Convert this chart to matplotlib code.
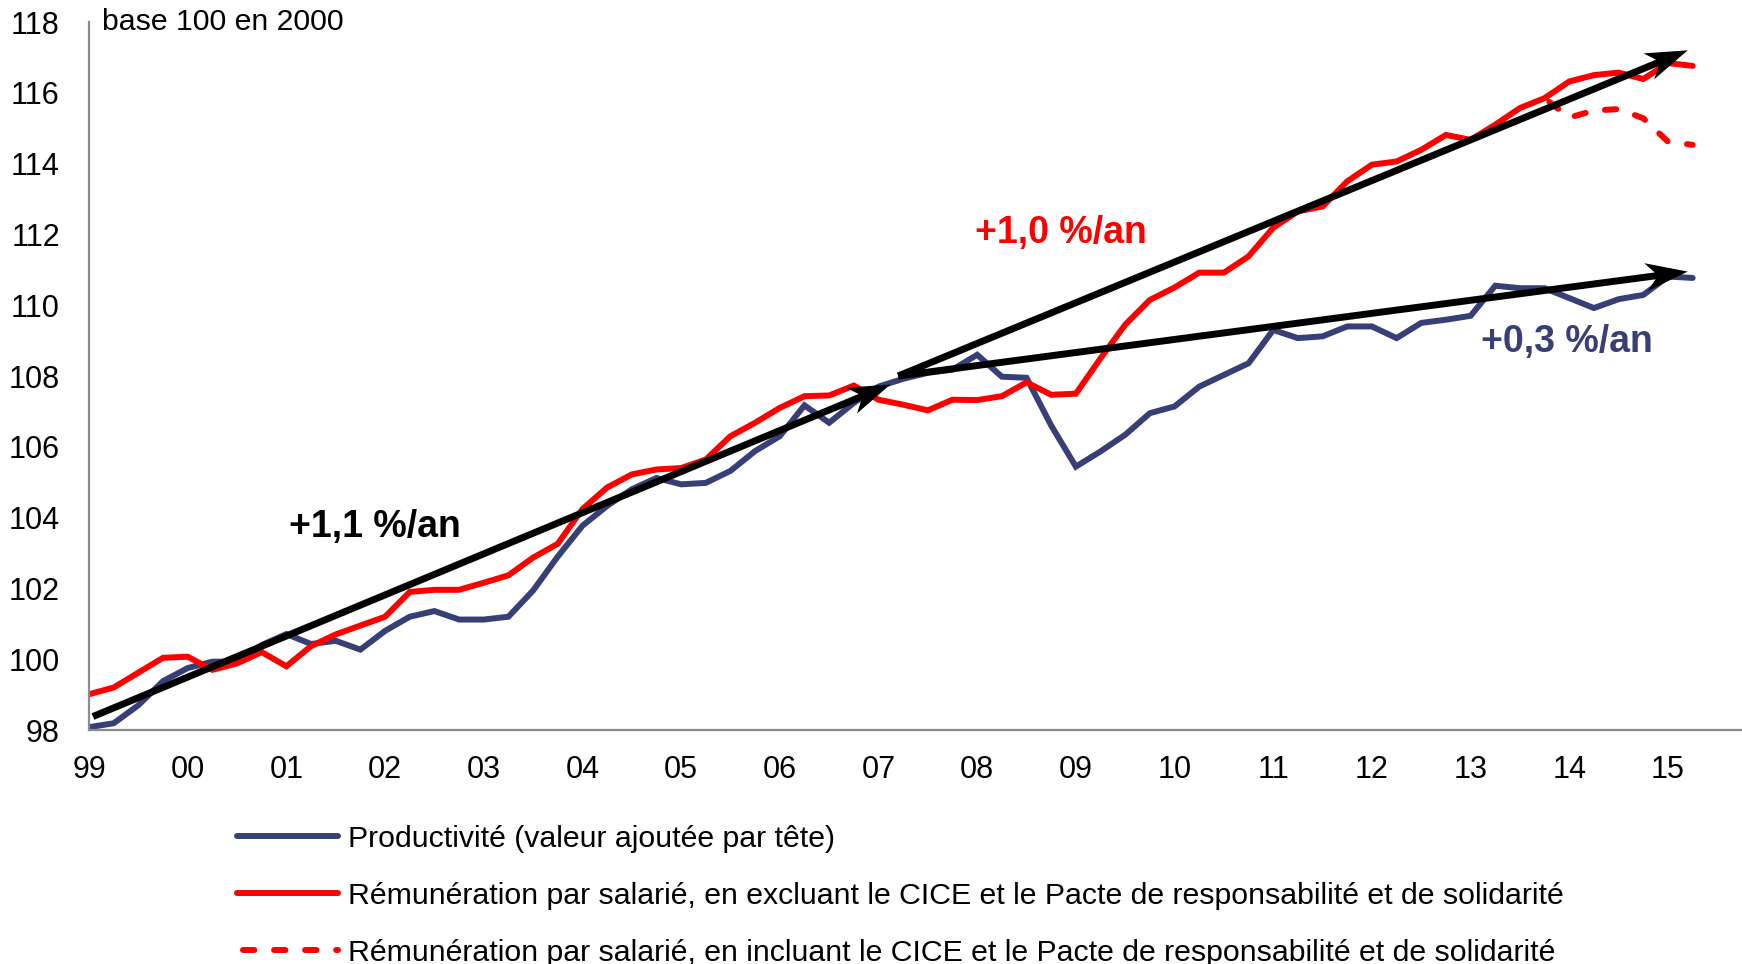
import matplotlib
matplotlib.use("Agg")
import matplotlib.pyplot as plt
import matplotlib.patches as mpatches
import matplotlib.transforms as mtransforms
import numpy as np

plt.rcParams['font.family'] = ['Liberation Sans', 'DejaVu Sans']

# Quarterly data, 1999Q1 -> 2015Q2, base 100 en 2000
productivite = [98.08, 98.19, 98.7, 99.38, 99.75, 99.93, 99.93, 100.4, 100.71, 100.43,
                100.52, 100.27, 100.8, 101.2, 101.36, 101.12, 101.12, 101.2, 101.94, 102.9,
                103.77, 104.33, 104.8, 105.12, 104.94, 104.98, 105.32, 105.88, 106.3, 107.17,
                106.68, 107.24, 107.7, 107.92, 108.09, 108.18, 108.6, 107.98, 107.95, 106.6,
                105.44, 105.87, 106.34, 106.95, 107.14, 107.7, 108.03, 108.36, 109.3, 109.07,
                109.12, 109.4, 109.4, 109.07, 109.5, 109.59, 109.7, 110.55, 110.48, 110.48,
                110.2, 109.92, 110.17, 110.29, 110.81, 110.77]
remun_excl = [99.01, 99.2, 99.62, 100.04, 100.07, 99.7, 99.88, 100.2, 99.8, 100.37,
              100.7, 100.95, 101.2, 101.9, 101.96, 101.96, 102.16, 102.37, 102.87, 103.26,
              104.24, 104.85, 105.22, 105.36, 105.4, 105.64, 106.3, 106.68, 107.1, 107.43,
              107.45, 107.73, 107.33, 107.19, 107.03, 107.33, 107.32, 107.43, 107.82, 107.47,
              107.5, 108.5, 109.45, 110.15, 110.5, 110.92, 110.92, 111.38, 112.19, 112.65,
              112.79, 113.5, 113.97, 114.06, 114.39, 114.81, 114.67, 115.1, 115.57, 115.85,
              116.32, 116.5, 116.57, 116.39, 116.84, 116.76]
# including CICE / Pacte, from 2013Q4 onwards
remun_incl = [115.85, 115.3, 115.5, 115.54, 115.28, 114.62, 114.53]

years = 1999 + np.arange(len(productivite)) / 4
years_incl = years[-len(remun_incl):]

tick_years = np.arange(1999, 2016)
tick_labels = ['99', '00', '01', '02', '03', '04', '05', '06', '07', '08',
               '09', '10', '11', '12', '13', '14', '15']

# trend arrows (start year, start value, end year, end value)
trend_9907 = (1999.04, 98.38, 2007.12, 107.76)
trend_remun = (2007.2, 108.0, 2015.2, 117.2)
trend_prod = (2007.2, 108.0, 2015.2, 110.95)

blue = '#383F77'
red = '#FF0000'
lw = 4.3

fig = plt.figure(figsize=(17.42, 9.64), dpi=100)
ax = fig.add_axes([89 / 1742, 1 - 730 / 964, 1 - 89 / 1742, 708 / 964])

ax.plot(years, productivite, color=blue, lw=lw, solid_joinstyle='miter',
        solid_capstyle='round',
        label='Productivité (valeur ajoutée par tête)')
ax.plot(years, remun_excl, color=red, lw=lw, solid_joinstyle='miter',
        solid_capstyle='round',
        label='Rémunération par salarié, en excluant le CICE et le Pacte de responsabilité et de solidarité')
ax.plot(years_incl, remun_incl, color=red, lw=lw, linestyle=(4.2, (1.9, 3.3)),
        dash_capstyle='round',
        label='Rémunération par salarié, en incluant le CICE et le Pacte de responsabilité et de solidarité')

ax.set_xlim(1999, 1999 + 67 / 4)
ax.set_ylim(98, 118)


def stealth_arrow(x0, y0, x1, y1, head_len=42, half_w=14, notch=12):
    # arrow built in pixel space so the head keeps its shape
    p0 = ax.transData.transform((x0, y0))
    p1 = ax.transData.transform((x1, y1))
    d = (p1 - p0) / np.hypot(*(p1 - p0))
    n = np.array([-d[1], d[0]])
    back = p1 - d * head_len
    notch_pt = back + d * notch
    shaft = mpatches.Polygon([p0, notch_pt], closed=False, lw=5.0, color='black',
                             fill=False, transform=mtransforms.IdentityTransform(),
                             capstyle='butt')
    head = mpatches.Polygon([p1, back + n * half_w, notch_pt, back - n * half_w],
                            closed=True, color='black', lw=0,
                            transform=mtransforms.IdentityTransform())
    fig.add_artist(shaft)
    fig.add_artist(head)


for t in [trend_9907, trend_remun, trend_prod]:
    stealth_arrow(*t)

ax.text(2001.9, 103.74, '+1,1 %/an', fontsize=27, fontweight='bold', color='black',
        ha='center', va='center')
ax.text(2008.85, 112.04, '+1,0 %/an', fontsize=27, fontweight='bold', color=red,
        ha='center', va='center')
ax.text(2013.98, 108.96, '+0,3 %/an', fontsize=27, fontweight='bold', color=blue,
        ha='center', va='center')
ax.text(1999.13, 118, 'base 100 en 2000', fontsize=21.8, ha='left', va='center')

ax.set_yticks(np.arange(98, 119, 2))
ax.set_xticks(tick_years)
ax.set_xticklabels(tick_labels)
ax.tick_params(axis='both', length=0, labelsize=22)
ax.tick_params(axis='y', pad=21)
ax.tick_params(axis='x', pad=18)

for s in ['top', 'right']:
    ax.spines[s].set_visible(False)
for s in ['left', 'bottom']:
    ax.spines[s].set_color('#8c8c8c')
    ax.spines[s].set_linewidth(1.6)

fig.legend(loc='upper left', bbox_to_anchor=(237 / 1742, 1 - 825 / 964),
           frameon=False, fontsize=21.8, handlelength=3.35, handletextpad=0.3,
           labelspacing=0.95, borderpad=0, borderaxespad=0)

fig.savefig('out.png', dpi=100)
